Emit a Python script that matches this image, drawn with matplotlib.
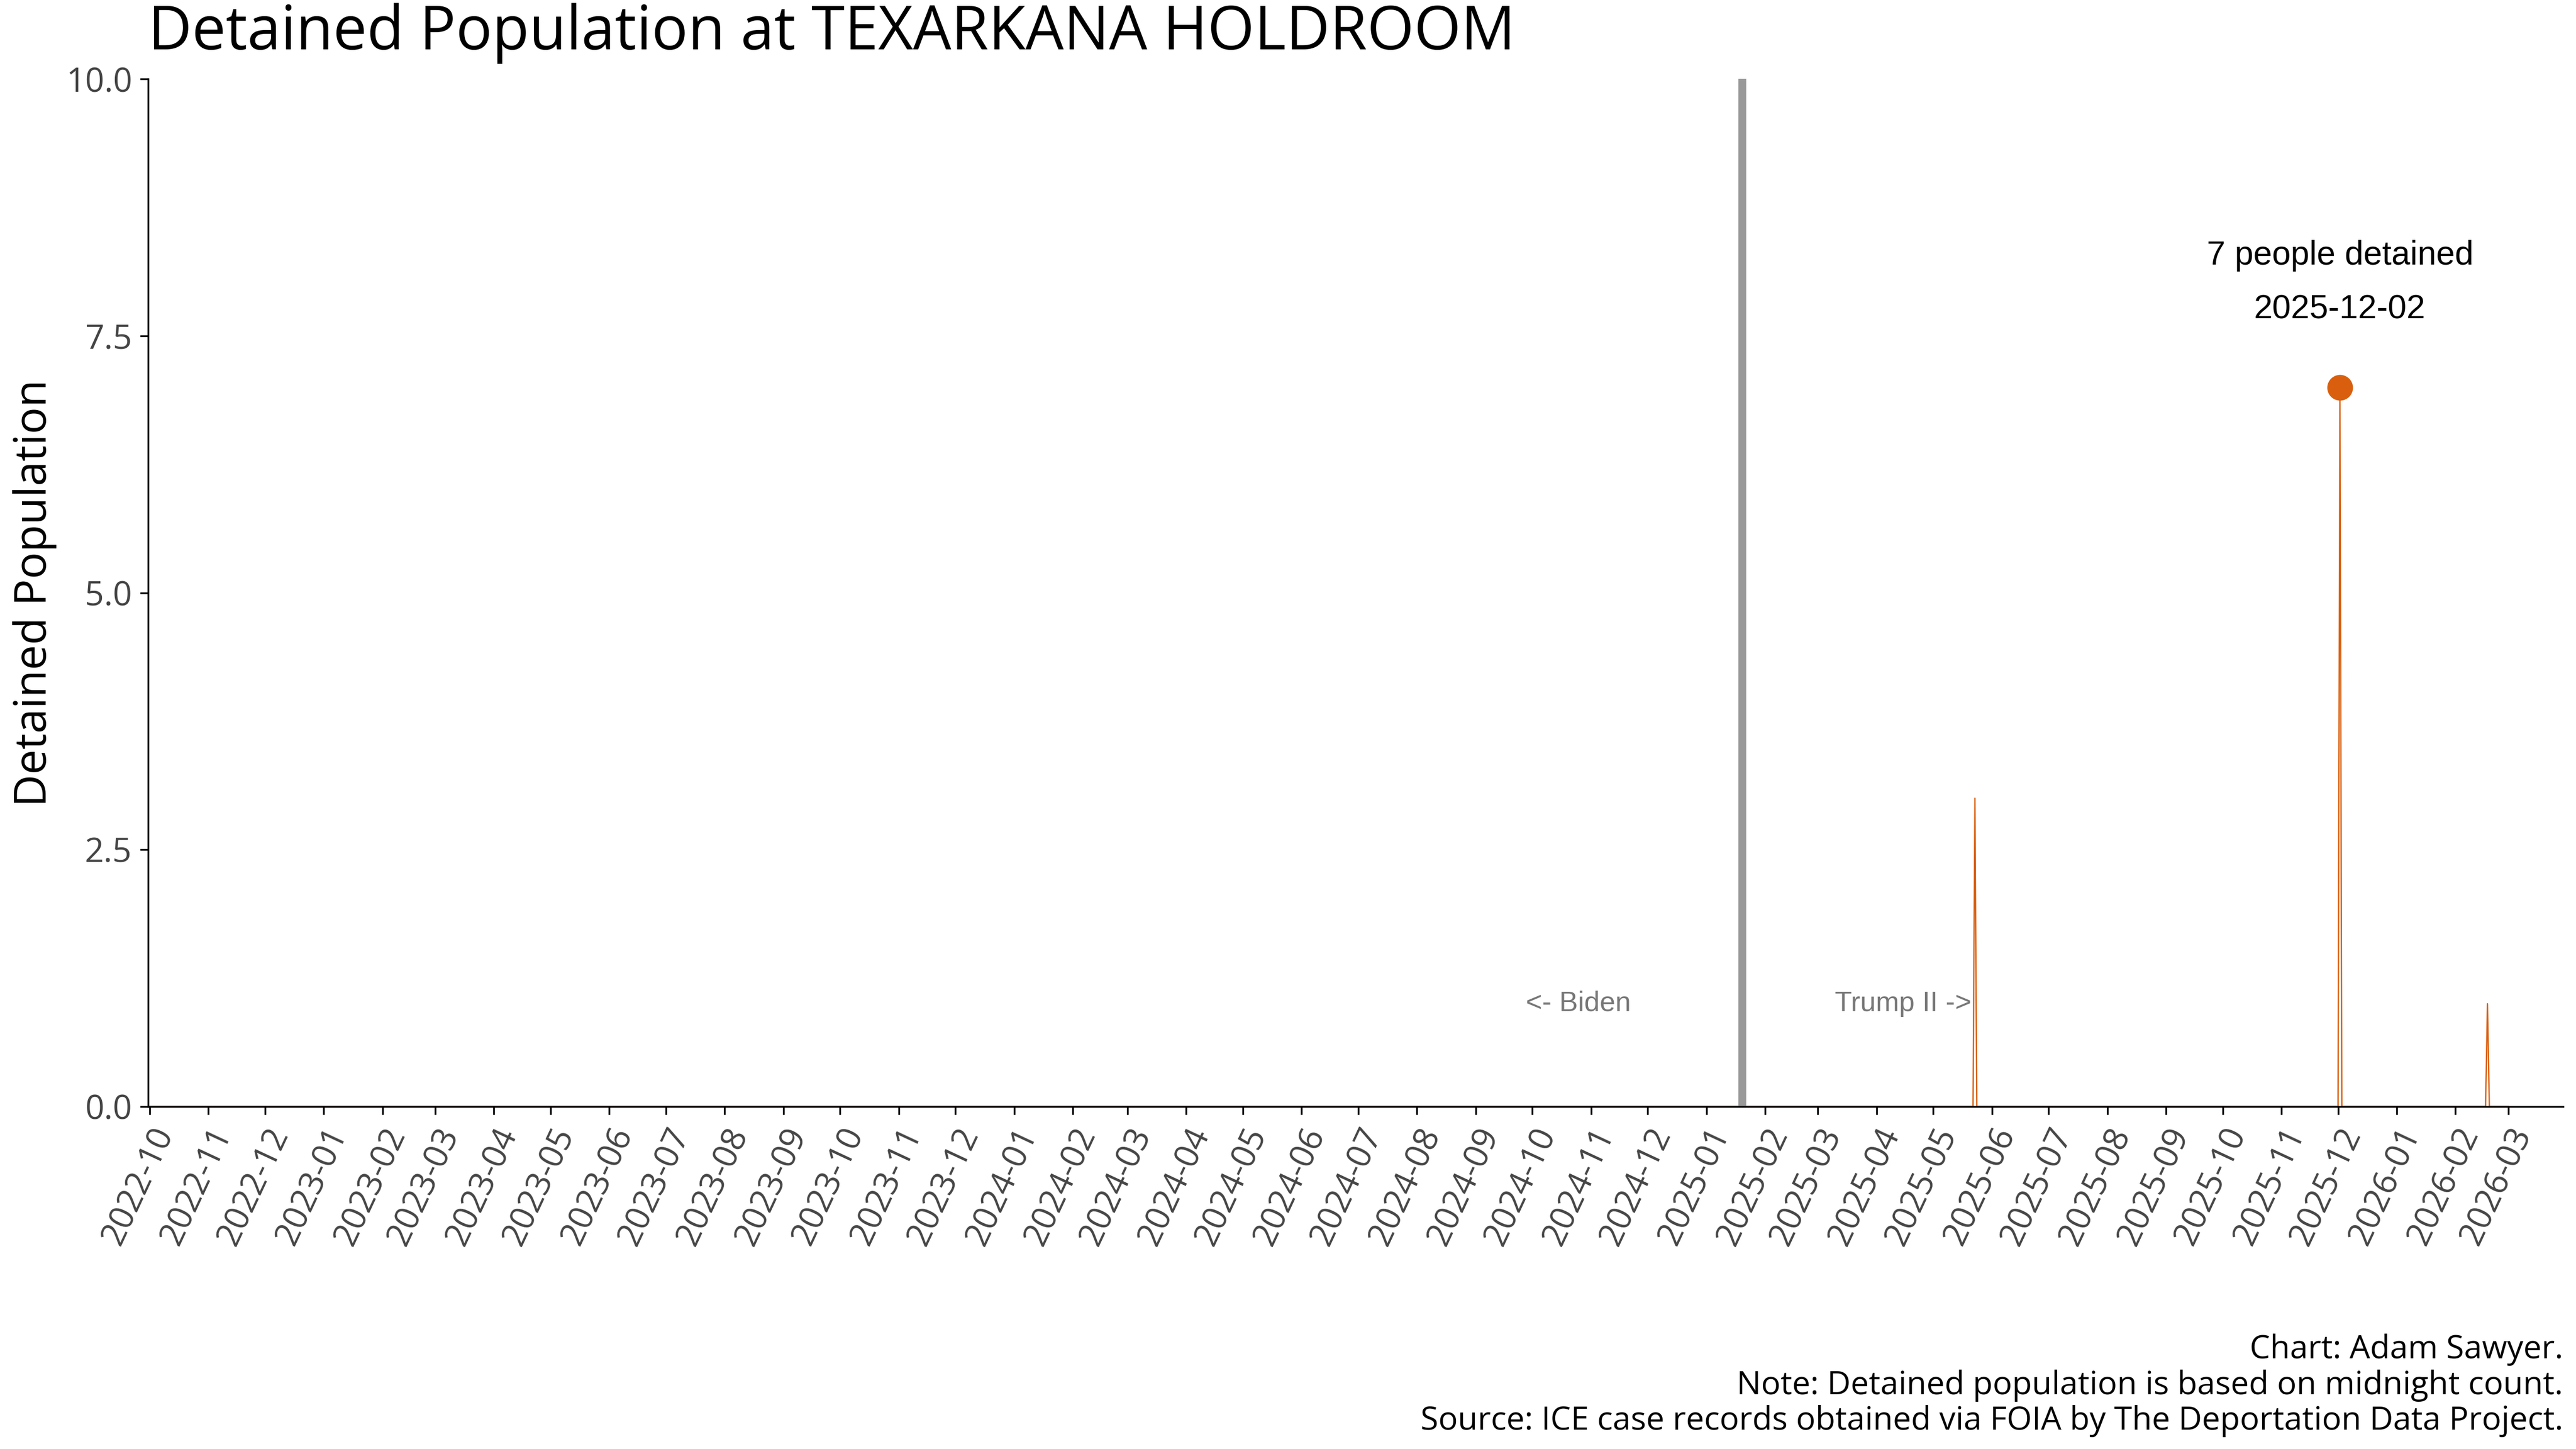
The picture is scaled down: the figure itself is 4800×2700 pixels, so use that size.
import matplotlib
matplotlib.use("Agg")
import matplotlib.pyplot as plt
import matplotlib.dates as mdates
import pandas as pd

start_date = "2022-10-01"
end_date = "2026-03-01"
spike_dates = ["2025-05-23", "2025-12-02", "2026-02-18"]
spike_values = [3, 7, 1]
inauguration = "2025-01-20"
peak_date = "2025-12-02"
peak_value = 7

days = pd.date_range(start_date, end_date, freq="D")
pop = pd.Series(0.0, index=days)
for d, v in zip(spike_dates, spike_values):
    pop[pd.Timestamp(d)] = v

plt.rcParams['font.family'] = ['Open Sans', 'DejaVu Sans']
fig = plt.figure(figsize=(16, 9), dpi=300)
ax = fig.add_axes([0.0574, 0.2364, 0.9376, 0.709])
ax.plot(pop.index, pop.values, color="#d95f0e", lw=0.6)
ax.axvline(pd.Timestamp(inauguration), color="#999999", lw=3.5)
ax.scatter([pd.Timestamp(peak_date)], [peak_value], s=110, color="#d95f0e", zorder=5)
ax.text(pd.Timestamp(peak_date), peak_value + 0.6, f"{peak_value} people detained\n{peak_date}",
        ha="center", va="bottom", fontsize=15, family="Liberation Sans", linespacing=1.9)
ax.text(pd.Timestamp("2024-11-22"), 1.0, "<- Biden", ha="right", va="center",
        fontsize=12.5, color="#777777", family="Liberation Sans")
ax.text(pd.Timestamp("2025-03-10"), 1.0, "Trump II ->", ha="left", va="center",
        fontsize=12.5, color="#777777", family="Liberation Sans")

ax.set_ylim(0, 10)
ax.set_yticks([0, 2.5, 5, 7.5, 10])
ax.set_yticklabels(["0.0", "2.5", "5.0", "7.5", "10.0"])
ax.set_xlim(pd.Timestamp("2022-09-30"), pd.Timestamp("2026-03-30"))
ax.xaxis.set_major_locator(mdates.MonthLocator())
ax.xaxis.set_major_formatter(mdates.DateFormatter("%Y-%m"))
plt.setp(ax.get_xticklabels(), rotation=65, ha="right", rotation_mode="anchor")
ax.tick_params(labelsize=15, colors="#444444")
ax.tick_params(axis="both", color="black")
for s in ["top", "right"]:
    ax.spines[s].set_visible(False)
ax.set_ylabel("Detained Population", fontsize=20)
fig.text(0.0574, 0.977, "Detained Population at TEXARKANA HOLDROOM", fontsize=27, va="center")
fig.text(0.995, 0.008, "Chart: Adam Sawyer.\nNote: Detained population is based on midnight count.\n"
         "Source: ICE case records obtained via FOIA by The Deportation Data Project.",
         ha="right", va="bottom", fontsize=14.5, linespacing=1.15)
fig.savefig("out.png", dpi=300)
